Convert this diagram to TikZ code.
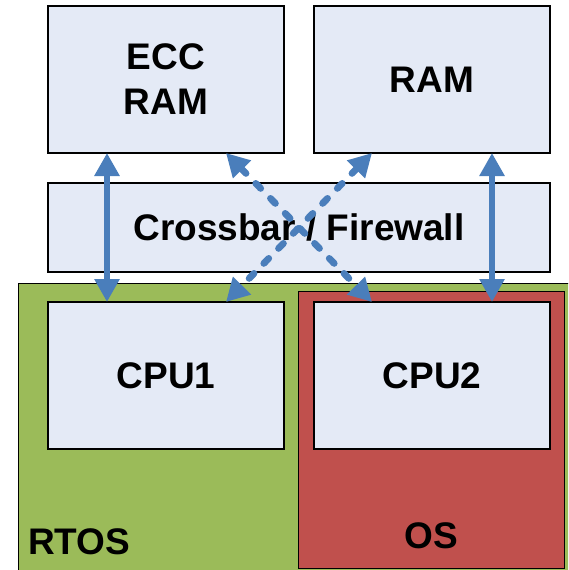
\documentclass[tikz,border=0pt]{standalone}
\usepackage{fontspec}
\setmainfont{Liberation Sans}
\usetikzlibrary{arrows.meta}
\definecolor{boxfill}{HTML}{E4EAF6}
\definecolor{linkblue}{HTML}{4A7EBB}
\definecolor{rtosgreen}{HTML}{9BBB59}
\definecolor{osred}{HTML}{C0504D}
\tikzset{
  unit/.style={draw=black, line width=1.2pt, fill=boxfill, inner sep=0pt, outer sep=0pt,
    anchor=north west, font=\fontsize{37}{45}\selectfont\bfseries, align=center},
  zone/.style={draw=black, line width=1pt, inner sep=0pt, outer sep=0pt, anchor=north west},
  zonelabel/.style={inner sep=0pt, font=\fontsize{37}{45}\selectfont\bfseries},
  link/.style={draw=linkblue, line width=6.8pt,
    {Triangle[width=24pt,length=23pt]}-{Triangle[width=24pt,length=23pt]}},
  dashlink/.style={link, line cap=round, dash pattern=on 7pt off 14pt}
}
\begin{document}
\begin{tikzpicture}[x=1pt, y=-1pt]
  \useasboundingbox (0,0) rectangle (568,570);
  \clip (0,0) rectangle (568,570);
  % operating system domains
  \node[zone, fill=rtosgreen, minimum width=552, minimum height=300] (rtos) at (18,283) {};
  \node[zone, fill=osred, minimum width=266, minimum height=277] (os) at (298,291) {};
  \node[zonelabel, anchor=base west] (rtoslabel) at (28,554) {RTOS};
  \node[zonelabel, anchor=base] (oslabel) at (431,548) {OS};
  % memories, interconnect and cores
  \node[unit, minimum width=236, minimum height=147] (ecc) at (48,6) {ECC\\RAM};
  \node[unit, minimum width=236, minimum height=147] (ram) at (314,6) {RAM};
  \node[unit, minimum width=502, minimum height=89] (xbar) at (48,183) {Crossbar / Firewall};
  \node[unit, minimum width=236, minimum height=147] (cpu1) at (48,302) {CPU1};
  \node[unit, minimum width=236, minimum height=147] (cpu2) at (314,302) {CPU2};
  % private paths
  \draw[link] ([xshift=-59pt]ecc.south) -- ([xshift=-59pt]cpu1.north);
  \draw[link] ([xshift=60pt]ram.south) -- ([xshift=60pt]cpu2.north);
  % shared paths through the crossbar
  \draw[dashlink] ([xshift=60pt]ecc.south) -- ([xshift=-60pt]cpu2.north);
  \draw[dashlink] ([xshift=-60pt]ram.south) -- ([xshift=60pt]cpu1.north);
\end{tikzpicture}
\end{document}
